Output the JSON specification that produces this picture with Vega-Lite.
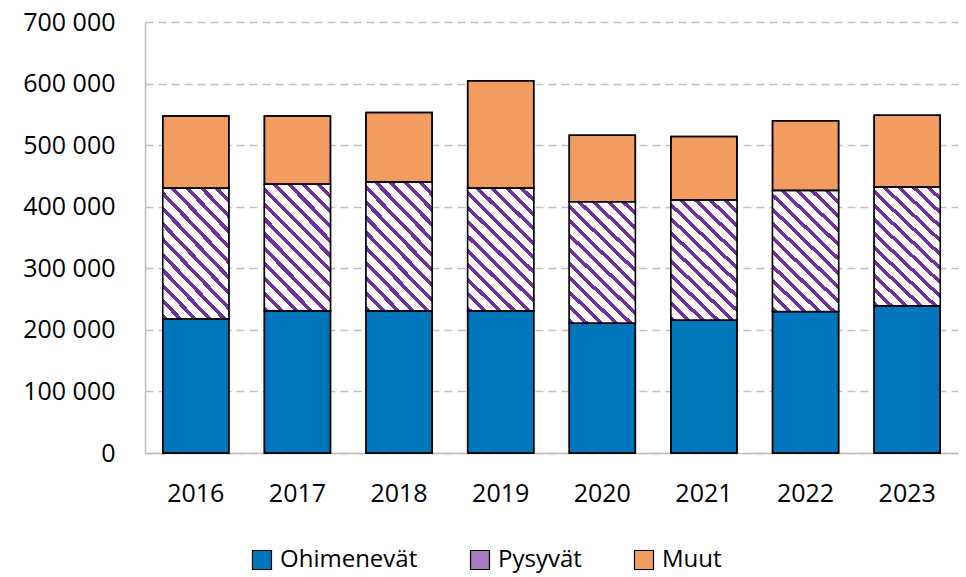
{
  "$schema": "https://vega.github.io/schema/vega-lite/v6.json",
  "width": 813,
  "height": 431,
  "autosize": {"type": "none"},
  "padding": {"left": 145, "top": 22, "right": 8, "bottom": 124},
  "config": {
    "locale": {"number": {"decimal": ",", "thousands": " ", "grouping": [3], "currency": ["", " €"]}},
    "view": {"stroke": null},
    "font": "Open Sans"
  },
  "data": {
    "values": [
      {"year": "2016", "series": "Ohimenevät", "value": 218000},
      {"year": "2016", "series": "Pysyvät", "value": 212000},
      {"year": "2016", "series": "Muut", "value": 117500},
      {"year": "2017", "series": "Ohimenevät", "value": 231000},
      {"year": "2017", "series": "Pysyvät", "value": 205500},
      {"year": "2017", "series": "Muut", "value": 111000},
      {"year": "2018", "series": "Ohimenevät", "value": 231000},
      {"year": "2018", "series": "Pysyvät", "value": 209000},
      {"year": "2018", "series": "Muut", "value": 113000},
      {"year": "2019", "series": "Ohimenevät", "value": 231000},
      {"year": "2019", "series": "Pysyvät", "value": 199000},
      {"year": "2019", "series": "Muut", "value": 174500},
      {"year": "2020", "series": "Ohimenevät", "value": 211000},
      {"year": "2020", "series": "Pysyvät", "value": 197000},
      {"year": "2020", "series": "Muut", "value": 108000},
      {"year": "2021", "series": "Ohimenevät", "value": 216000},
      {"year": "2021", "series": "Pysyvät", "value": 195000},
      {"year": "2021", "series": "Muut", "value": 103000},
      {"year": "2022", "series": "Ohimenevät", "value": 230000},
      {"year": "2022", "series": "Pysyvät", "value": 196500},
      {"year": "2022", "series": "Muut", "value": 113000},
      {"year": "2023", "series": "Ohimenevät", "value": 239000},
      {"year": "2023", "series": "Pysyvät", "value": 193000},
      {"year": "2023", "series": "Muut", "value": 116500}
    ]
  },
  "transform": [
    {"calculate": "indexof(['Ohimenevät', 'Pysyvät', 'Muut'], datum.series)", "as": "stackOrder"}
  ],
  "encoding": {
    "x": {
      "field": "year",
      "type": "ordinal",
      "scale": {"paddingInner": 0.35, "paddingOuter": 0.175},
      "axis": {
        "title": null,
        "labelAngle": 0,
        "labelFontSize": 25,
        "labelColor": "#000000",
        "ticks": false,
        "domainColor": "#BFBFBF",
        "domainWidth": 1.5,
        "labelPadding": 28,
        "grid": false
      }
    },
    "y": {
      "field": "value",
      "type": "quantitative",
      "stack": "zero",
      "scale": {"domain": [0, 700000], "nice": false},
      "axis": {
        "title": null,
        "values": [0, 100000, 200000, 300000, 400000, 500000, 600000, 700000],
        "format": ",d",
        "labelFontSize": 25,
        "labelColor": "#000000",
        "ticks": false,
        "labelPadding": 30,
        "domainColor": "#BFBFBF",
        "domainWidth": 1.5,
        "gridColor": "#BFBFBF",
        "gridDash": [8, 5],
        "gridWidth": 1.5
      }
    },
    "order": {"field": "stackOrder", "type": "quantitative", "sort": "ascending"}
  },
  "layer": [
    {
      "mark": {"type": "bar", "stroke": "#000000", "strokeWidth": 1.5},
      "encoding": {
        "color": {
          "field": "series",
          "type": "nominal",
          "sort": ["Ohimenevät", "Pysyvät", "Muut"],
          "scale": {"range": ["#0077BD", "#A47CC6", "#F39C62"]},
          "legend": {
            "orient": "none",
            "legendX": 105,
            "legendY": 526,
            "direction": "horizontal",
            "title": null,
            "symbolType": "square",
            "symbolSize": 361,
            "symbolStrokeColor": "#000000",
            "symbolStrokeWidth": 1.2,
            "symbolOpacity": 1,
            "labelFontSize": 24,
            "labelFont": "Open Sans",
            "labelColor": "#000000",
            "columnPadding": 50,
            "labelOffset": 6,
            "encode": {
              "symbols": {
                "update": {
                  "fill": [
                    {
                      "test": "datum.value === 'Pysyvät'",
                      "value": {
                        "gradient": "linear",
                        "x1": 0, "y1": 1, "x2": 1, "y2": 0,
                        "stops": [
                          {"offset": 0, "color": "#FFFFFF"}, {"offset": 0.3, "color": "#FFFFFF"},
                          {"offset": 0.3, "color": "#7030A0"}, {"offset": 0.55, "color": "#7030A0"},
                          {"offset": 0.55, "color": "#FFFFFF"}, {"offset": 0.8, "color": "#FFFFFF"},
                          {"offset": 0.8, "color": "#7030A0"}, {"offset": 1, "color": "#7030A0"}
                        ]
                      }
                    },
                    {"scale": "color", "field": "value"}
                  ],
                  "stroke": {"value": "#000000"},
                  "strokeWidth": {"value": 1.2}
                }
              }
            }
          }
        }
      }
    },
    {
      "mark": {"type": "bar", "stroke": "#000000", "strokeWidth": 1.5},
      "encoding": {
        "color": {
          "field": "series",
          "type": "nominal",
          "sort": ["Ohimenevät", "Pysyvät", "Muut"],
          "scale": {"range": ["#0077BD", "#A47CC6", "#F39C62"]},
          "legend": null
        },
        "fill": {
          "condition": {
            "test": "datum.series === 'Pysyvät'",
            "value": {
              "gradient": "linear",
              "x1": 0, "y1": 1, "x2": 0.631, "y2": -0.195,
              "stops": [
                {"offset": 0, "color": "#7030A0"}, {"offset": 0.02692, "color": "#7030A0"}, {"offset": 0.02692, "color": "#FFFFFF"}, {"offset": 0.07692, "color": "#FFFFFF"},
                {"offset": 0.07692, "color": "#7030A0"}, {"offset": 0.10385, "color": "#7030A0"}, {"offset": 0.10385, "color": "#FFFFFF"}, {"offset": 0.15385, "color": "#FFFFFF"},
                {"offset": 0.15385, "color": "#7030A0"}, {"offset": 0.18077, "color": "#7030A0"}, {"offset": 0.18077, "color": "#FFFFFF"}, {"offset": 0.23077, "color": "#FFFFFF"},
                {"offset": 0.23077, "color": "#7030A0"}, {"offset": 0.25769, "color": "#7030A0"}, {"offset": 0.25769, "color": "#FFFFFF"}, {"offset": 0.30769, "color": "#FFFFFF"},
                {"offset": 0.30769, "color": "#7030A0"}, {"offset": 0.33462, "color": "#7030A0"}, {"offset": 0.33462, "color": "#FFFFFF"}, {"offset": 0.38462, "color": "#FFFFFF"},
                {"offset": 0.38462, "color": "#7030A0"}, {"offset": 0.41154, "color": "#7030A0"}, {"offset": 0.41154, "color": "#FFFFFF"}, {"offset": 0.46154, "color": "#FFFFFF"},
                {"offset": 0.46154, "color": "#7030A0"}, {"offset": 0.48846, "color": "#7030A0"}, {"offset": 0.48846, "color": "#FFFFFF"}, {"offset": 0.53846, "color": "#FFFFFF"},
                {"offset": 0.53846, "color": "#7030A0"}, {"offset": 0.56538, "color": "#7030A0"}, {"offset": 0.56538, "color": "#FFFFFF"}, {"offset": 0.61538, "color": "#FFFFFF"},
                {"offset": 0.61538, "color": "#7030A0"}, {"offset": 0.64231, "color": "#7030A0"}, {"offset": 0.64231, "color": "#FFFFFF"}, {"offset": 0.69231, "color": "#FFFFFF"},
                {"offset": 0.69231, "color": "#7030A0"}, {"offset": 0.71923, "color": "#7030A0"}, {"offset": 0.71923, "color": "#FFFFFF"}, {"offset": 0.76923, "color": "#FFFFFF"},
                {"offset": 0.76923, "color": "#7030A0"}, {"offset": 0.79615, "color": "#7030A0"}, {"offset": 0.79615, "color": "#FFFFFF"}, {"offset": 0.84615, "color": "#FFFFFF"},
                {"offset": 0.84615, "color": "#7030A0"}, {"offset": 0.87308, "color": "#7030A0"}, {"offset": 0.87308, "color": "#FFFFFF"}, {"offset": 0.92308, "color": "#FFFFFF"},
                {"offset": 0.92308, "color": "#7030A0"}, {"offset": 0.95, "color": "#7030A0"}, {"offset": 0.95, "color": "#FFFFFF"}, {"offset": 1, "color": "#FFFFFF"}
              ]
            }
          },
          "value": "transparent"
        }
      }
    }
  ]
}
